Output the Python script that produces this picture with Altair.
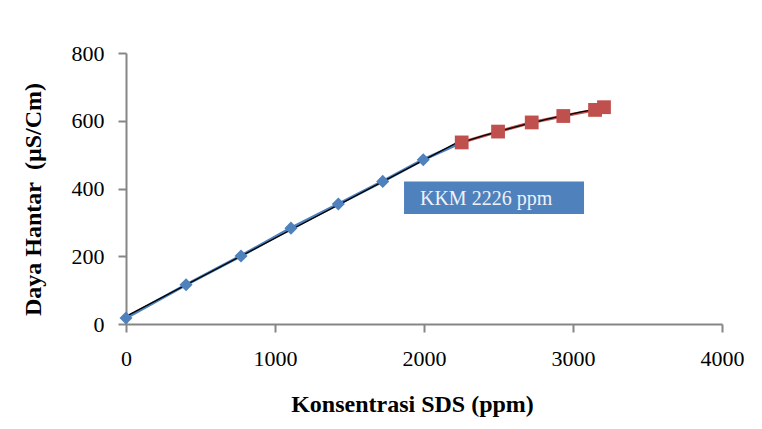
import altair as alt
import pandas as pd

# Blue series (below KKM)
blue_x = [0, 403, 772, 1107, 1425, 1723, 1995]
blue_y = [18, 116, 201, 283, 354, 421, 485]
# Red series (above KKM)
red_x = [2253, 2497, 2723, 2935, 3148, 3208]
red_y = [536, 568, 595, 614, 632, 640]

x_ticks = [0, 1000, 2000, 3000, 4000]
y_ticks = [0, 200, 400, 600, 800]

label_text = "KKM 2226 ppm"
box_x = [1866]
box_x2 = [3074]
box_y = [421]
box_y2 = [325]
label_x = [1973]
label_y = [370]

blue = pd.DataFrame({"x": blue_x, "y": blue_y})
blue_line = pd.DataFrame({"x": blue_x + [red_x[0]], "y": blue_y + [red_y[0]]})
red = pd.DataFrame({"x": red_x, "y": red_y})
box = pd.DataFrame({"x": box_x, "x2": box_x2, "y": box_y, "y2": box_y2})
lab = pd.DataFrame({"x": label_x, "y": label_y, "t": [label_text]})

xs = alt.Scale(domain=[0, 4000], nice=False)
ys = alt.Scale(domain=[0, 800], nice=False)

x_axis = alt.Axis(values=x_ticks, title="Konsentrasi SDS (ppm)", format="d",
                  titleX=286, titleY=80, titleBaseline="middle",
                  labelPadding=16, tickSize=8, labelFlush=False)
y_axis = alt.Axis(values=y_ticks, title="Daya Hantar\u00a0 (µS/Cm)", format="d",
                  titleX=-93, titleY=146, titleBaseline="middle", titleAngle=-90,
                  titleAlign="center", labelPadding=14, tickSize=8, labelFlush=False)

base_x = alt.X("x:Q", scale=xs, axis=x_axis)
base_y = alt.Y("y:Q", scale=ys, axis=y_axis)

bline = alt.Chart(blue_line).mark_line(color="#4F81BD", strokeWidth=3).encode(x=base_x, y=base_y)
bpts = alt.Chart(blue).mark_point(shape="diamond", filled=True, color="#4F81BD", size=170, opacity=1).encode(x="x:Q", y="y:Q")
btrend = alt.Chart(blue_line).transform_regression("x", "y", extent=[0, red_x[0]]).mark_line(
    color="black", strokeWidth=1.3).encode(x="x:Q", y="y:Q")

rline = alt.Chart(red).mark_line(color="#C0504D", strokeWidth=3).encode(x="x:Q", y="y:Q")
rpts = alt.Chart(red).mark_point(shape="square", filled=True, color="#C0504D", size=190, opacity=1).encode(x="x:Q", y="y:Q")
rtrend = alt.Chart(red).transform_regression("x", "y", method="poly", order=2).mark_line(
    color="black", strokeWidth=1.3).encode(x="x:Q", y="y:Q")

rect = alt.Chart(box).mark_rect(color="#4F81BD").encode(x="x:Q", x2="x2:Q", y="y:Q", y2="y2:Q")
txt = alt.Chart(lab).mark_text(align="left", baseline="middle", font="Liberation Serif",
                               fontSize=20, color="#EEF2F8").encode(x="x:Q", y="y:Q", text="t:N")

chart = alt.layer(bline, btrend, bpts, rline, rtrend, rpts, rect, txt).properties(
    width=596, height=271,
    autosize=alt.AutoSizeParams(type="none"),
    padding={"left": 118, "top": 45, "right": 32, "bottom": 97},
    background="white",
).configure_view(stroke=None).configure_axis(
    domainColor="#868686", tickColor="#868686", domainWidth=2, tickWidth=2,
    grid=False, labelFont="Liberation Serif", labelFontSize=22, labelColor="black",
    titleFont="Liberation Serif", titleFontSize=24, titleFontWeight="bold", titleColor="black",
)

chart.save("out.html", embed_options={"renderer": "svg", "actions": False})
